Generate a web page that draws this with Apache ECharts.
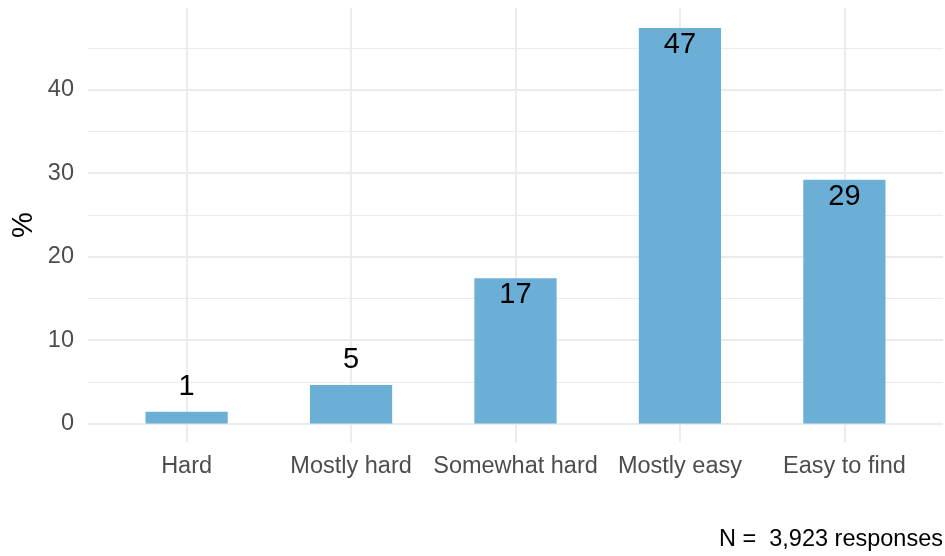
<!DOCTYPE html>
<html>
<head>
<meta charset="utf-8">
<script src="https://cdn.jsdelivr.net/npm/echarts@6/dist/echarts.min.js"></script>
<style>
html,body{margin:0;padding:0;background:#fff;}
#chart{width:945px;height:556px;}
</style>
</head>
<body>
<div id="chart"></div>
<script>
const categories = ['Hard', 'Mostly hard', 'Somewhat hard', 'Mostly easy', 'Easy to find'];
const percents = [1.4, 4.6, 17.4, 47.4, 29.2];
const yTicks = [0, 10, 20, 30, 40];
const captionText = 'N =  3,923 responses';
const yTitle = '%';

const FONT = '"Liberation Sans", Arial, Helvetica, sans-serif';
const GRID_COLOR = '#EBEBEB';
const BAR_COLOR = '#6BAED6';

const barData = percents.map(v => ({
  value: v,
  label: v < 10
    ? { position: 'top', distance: 10.5 }
    : { position: 'insideTop', distance: 2.5 }
}));

const chart = echarts.init(document.getElementById('chart'), null, { renderer: 'canvas' });
chart.setOption({
  backgroundColor: '#ffffff',
  animation: false,
  textStyle: { fontFamily: FONT },
  title: {
    text: captionText,
    right: 2,
    top: 528,
    padding: 0,
    textStyle: { fontFamily: FONT, fontSize: 23.5, fontWeight: 'normal', color: '#000' }
  },
  graphic: [{
    type: 'text',
    x: 23.5,
    y: 225,
    rotation: Math.PI / 2,
    style: { text: yTitle, fontFamily: FONT, fontSize: 29, fill: '#000', align: 'center', verticalAlign: 'middle' }
  }],
  grid: [
    { left: 88, right: 2, top: 8, bottom: 132.5, containLabel: false },
    { left: 104.4, right: 18.4, top: 8, bottom: 132.5, containLabel: false }
  ],
  xAxis: [
    { gridIndex: 0, type: 'value', show: false, min: 0, max: 1 },
    {
      gridIndex: 1,
      type: 'category',
      data: categories,
      axisLine: { show: false },
      axisTick: { show: true, alignWithLabel: true, interval: 0, length: 19, lineStyle: { color: GRID_COLOR, width: 1.9 } },
      splitLine: { show: true, alignWithLabel: true, interval: 0, lineStyle: { color: GRID_COLOR, width: 1.9 } },
      axisLabel: { interval: 0, hideOverlap: false, margin: 31, fontFamily: FONT, fontSize: 23.5, color: '#4D4D4D' }
    }
  ],
  yAxis: [
    {
      gridIndex: 0,
      type: 'value',
      min: yTicks[0],
      max: 49.8,
      interval: 10,
      axisLine: { show: false },
      axisTick: { show: false },
      minorTick: { show: false, splitNumber: 2 },
      minorSplitLine: { show: true, lineStyle: { color: GRID_COLOR, width: 1 } },
      splitLine: { show: true, showMaxLine: false, lineStyle: { color: GRID_COLOR, width: 1.9 } },
      axisLabel: {
        margin: 14, fontFamily: FONT, fontSize: 23.5, color: '#4D4D4D', showMaxLabel: false,
        formatter: v => (yTicks.indexOf(v) >= 0 ? String(v) : '')
      }
    },
    { gridIndex: 1, type: 'value', min: 0, max: 49.8, show: false, splitLine: { show: false } }
  ],
  series: [{
    type: 'bar',
    xAxisIndex: 1,
    yAxisIndex: 1,
    barWidth: '50%',
    data: barData,
    itemStyle: { color: BAR_COLOR },
    label: {
      show: true,
      fontFamily: FONT,
      fontSize: 29,
      color: '#000',
      formatter: p => String(Math.round(p.value))
    }
  }]
});
</script>
</body>
</html>
